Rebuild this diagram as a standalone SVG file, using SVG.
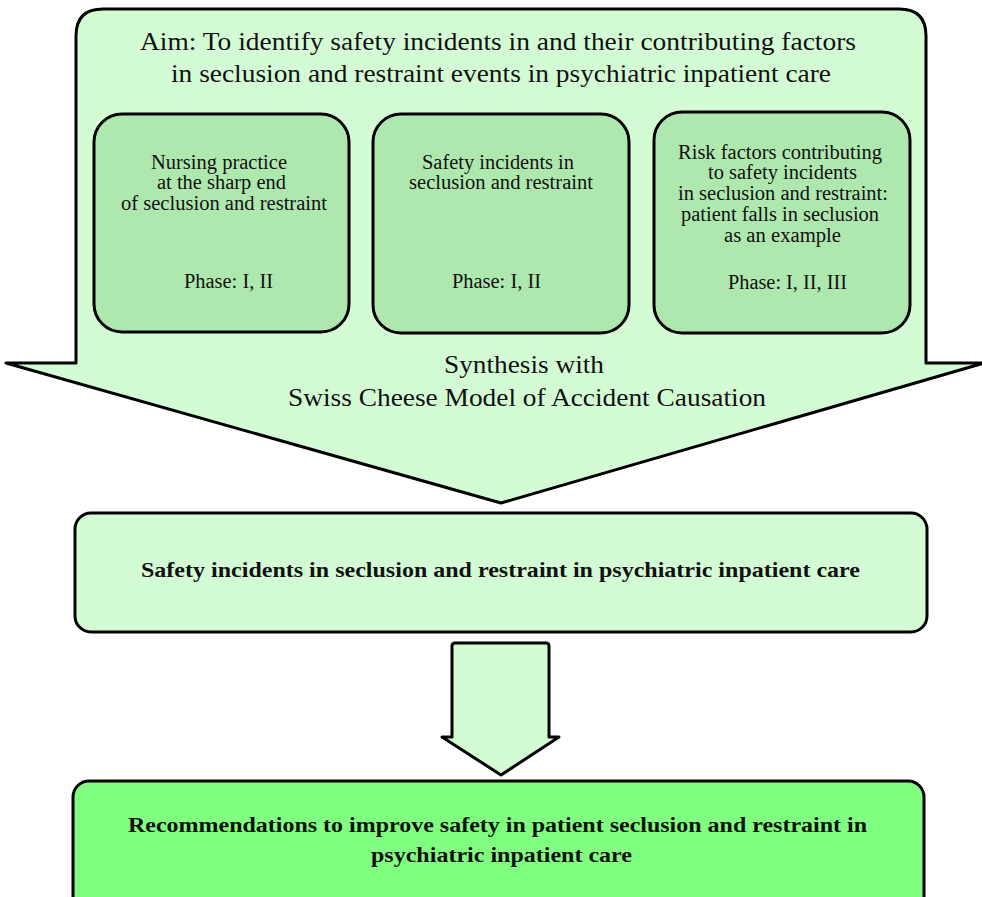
<svg xmlns="http://www.w3.org/2000/svg" width="982" height="897" viewBox="0 0 982 897">
<style>
.o{stroke:#000;stroke-width:3;stroke-linejoin:round}
.t{font-family:"Liberation Serif","Times New Roman",serif;fill:#111;text-anchor:middle}
.s{font-size:20px}
.l{font-size:25px}
.b{font-weight:bold;font-size:22px}
</style>
<rect width="982" height="897" fill="#fff"/>
<g id="aim">
<path class="o" fill="#d4fcd4" d="M6,363 L76,363 L76,36 Q76,9 103,9 L899,9 Q926,9 926,36 L926,363 L984,363 L501,503 Z"/>
<text class="t l" x="498" y="50" textLength="716" lengthAdjust="spacingAndGlyphs">Aim: To identify safety incidents in and their contributing factors</text>
<text class="t l" x="501" y="82" textLength="660" lengthAdjust="spacingAndGlyphs">in seclusion and restraint events in psychiatric inpatient care</text>
<text class="t l" x="524" y="373" textLength="160" lengthAdjust="spacingAndGlyphs">Synthesis with</text>
<text class="t l" x="527" y="406" textLength="478" lengthAdjust="spacingAndGlyphs">Swiss Cheese Model of Accident Causation</text>
</g>
<g id="box1">
<rect class="o" x="94" y="114" width="255" height="218" rx="28" fill="#aee8ae"/>
<text class="t s" x="219" y="169" textLength="136" lengthAdjust="spacingAndGlyphs">Nursing practice</text>
<text class="t s" x="221.5" y="189" textLength="129" lengthAdjust="spacingAndGlyphs">at the sharp end</text>
<text class="t s" x="224" y="210" textLength="206" lengthAdjust="spacingAndGlyphs">of seclusion and restraint</text>
<text class="t s" x="228.5" y="288" textLength="89" lengthAdjust="spacingAndGlyphs">Phase: I, II</text>
</g>
<g id="box2">
<rect class="o" x="373" y="114" width="256" height="219" rx="28" fill="#aee8ae"/>
<text class="t s" x="498" y="169" textLength="152" lengthAdjust="spacingAndGlyphs">Safety incidents in</text>
<text class="t s" x="501" y="189" textLength="184" lengthAdjust="spacingAndGlyphs">seclusion and restraint</text>
<text class="t s" x="496.5" y="288" textLength="89" lengthAdjust="spacingAndGlyphs">Phase: I, II</text>
</g>
<g id="box3">
<rect class="o" x="654" y="112" width="256" height="221" rx="28" fill="#aee8ae"/>
<text class="t s" x="780" y="159" textLength="204" lengthAdjust="spacingAndGlyphs">Risk factors contributing</text>
<text class="t s" x="782.5" y="179" textLength="149" lengthAdjust="spacingAndGlyphs">to safety incidents</text>
<text class="t s" x="783" y="200" textLength="210" lengthAdjust="spacingAndGlyphs">in seclusion and restraint:</text>
<text class="t s" x="780" y="221" textLength="198" lengthAdjust="spacingAndGlyphs">patient falls in seclusion</text>
<text class="t s" x="782.5" y="242" textLength="117" lengthAdjust="spacingAndGlyphs">as an example</text>
<text class="t s" x="787.5" y="289" textLength="119" lengthAdjust="spacingAndGlyphs">Phase: I, II, III</text>
</g>
<g id="incidents">
<rect class="o" x="75" y="513" width="852" height="119" rx="16" fill="#d4fcd4"/>
<text class="t b" x="500.5" y="577" textLength="719" lengthAdjust="spacingAndGlyphs">Safety incidents in seclusion and restraint in psychiatric inpatient care</text>
</g>
<g id="connectors">
<path class="o" fill="#d4fcd4" d="M452,737 L452,646 Q452,643 455,643 L546,643 Q549,643 549,646 L549,737 L559,737 L501,775 L442,737 Z"/>
</g>
<g id="recommendations">
<rect class="o" x="73" y="781" width="851" height="140" rx="16" fill="#80ff80"/>
<text class="t b" x="497.5" y="832" textLength="739" lengthAdjust="spacingAndGlyphs">Recommendations to improve safety in patient seclusion and restraint in</text>
<text class="t b" x="501.5" y="862" textLength="261" lengthAdjust="spacingAndGlyphs">psychiatric inpatient care</text>
</g>
</svg>
